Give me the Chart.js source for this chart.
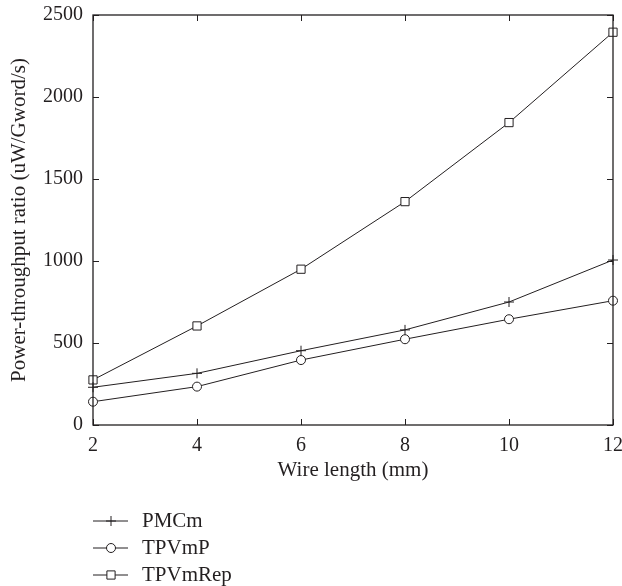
<!DOCTYPE html>
<html>
<head>
<meta charset="utf-8">
<script src="https://cdn.jsdelivr.net/npm/chart.js@4"></script>
<style>
  html, body { margin: 0; padding: 0; background: #fff; }
  #wrap { width: 622px; height: 586px; position: relative; }
</style>
</head>
<body>
<div id="wrap"><canvas id="grafico"></canvas></div>
<script>
// dados
const wireLength = [2, 4, 6, 8, 10, 12];
const pmcm = [230, 315, 453, 580, 750, 1006];
const tpvmp = [142, 234, 396, 523, 645, 758];
const tpvmrep = [275, 604, 950, 1362, 1844, 2395];
const xTicks = [2, 4, 6, 8, 10, 12];
const yTicks = [0, 500, 1000, 1500, 2000, 2500];

const corTexto = '#231f20';
const corLinha = '#231f20';
const fonte = 'Liberation Serif';

Chart.defaults.font.family = fonte;
Chart.defaults.color = corTexto;

function serie(label, valores, estilo, raio) {
    return {
        label: label,
        data: wireLength.map((x, i) => ({ x: x, y: valores[i] })),
        borderColor: corLinha,
        backgroundColor: '#fff',
        borderWidth: 1,
        pointStyle: estilo,
        pointRadius: raio,
        pointBorderWidth: 1,
        pointBorderColor: corLinha,
        pointBackgroundColor: '#fff',
        tension: 0,
        clip: false
    };
}

// zera o espaço extra que o chart.js reserva pros rótulos das pontas
function semPadding(s) {
    s.paddingLeft = 0;
    s.paddingRight = 0;
    s.paddingTop = 0;
    s.paddingBottom = 0;
}

// ticks para dentro nos quatro lados + moldura
const molduraTicks = {
    id: 'molduraTicks',
    afterDatasetsDraw(chart) {
        const { ctx, chartArea: a, scales: { x, y } } = chart;
        const tam = 6;
        ctx.save();
        ctx.strokeStyle = corLinha;
        ctx.lineWidth = 1;
        ctx.beginPath();
        xTicks.forEach(v => {
            const px = Math.round(x.getPixelForValue(v)) + 0.5;
            ctx.moveTo(px, a.bottom); ctx.lineTo(px, a.bottom - tam);
            ctx.moveTo(px, a.top); ctx.lineTo(px, a.top + tam);
        });
        yTicks.forEach(v => {
            const py = Math.round(y.getPixelForValue(v)) + 0.5;
            ctx.moveTo(a.left, py); ctx.lineTo(a.left + tam, py);
            ctx.moveTo(a.right, py); ctx.lineTo(a.right - tam, py);
        });
        ctx.stroke();
        ctx.lineWidth = 1.3;
        ctx.strokeRect(a.left, a.top, a.right - a.left, a.bottom - a.top);
        ctx.restore();
    }
};

// legenda vertical abaixo do eixo x
const legendaVertical = {
    id: 'legendaVertical',
    afterDraw(chart) {
        const ctx = chart.ctx;
        const linhas = [521, 548, 575];
        ctx.save();
        chart.data.datasets.forEach((ds, i) => {
            const yy = linhas[i];
            ctx.strokeStyle = corLinha;
            ctx.lineWidth = 1;
            ctx.beginPath();
            ctx.moveTo(93, yy);
            ctx.lineTo(128, yy);
            ctx.stroke();
            ctx.fillStyle = '#fff';
            Chart.helpers.drawPoint(ctx, {
                pointStyle: ds.pointStyle,
                radius: ds.pointRadius,
                borderWidth: 1
            }, 111, yy);
            ctx.fillStyle = corTexto;
            ctx.font = '21px ' + fonte;
            ctx.textBaseline = 'middle';
            ctx.textAlign = 'left';
            ctx.fillText(ds.label, 142, yy);
        });
        ctx.restore();
    }
};

const ctxGrafico = document.getElementById('grafico');
new Chart(ctxGrafico, {
    type: 'line',
    data: {
        datasets: [
            serie('PMCm', pmcm, 'cross', 5),
            serie('TPVmP', tpvmp, 'circle', 4.5),
            serie('TPVmRep', tpvmrep, 'rect', 5.8)
        ]
    },
    options: {
        responsive: true,
        maintainAspectRatio: false,
        animation: false,
        layout: {
            padding: { top: 15, right: 9, bottom: 99, left: 0 }
        },
        scales: {
            x: {
                type: 'linear',
                min: 2,
                max: 12,
                afterBuildTicks: s => { s.ticks = xTicks.map(v => ({ value: v })); },
                afterFit: s => { s.height = 62; semPadding(s); },
                grid: { display: false, drawTicks: false },
                border: { display: false },
                ticks: { padding: 9, font: { size: 20 }, color: corTexto, maxRotation: 0 },
                title: {
                    display: true,
                    text: 'Wire length (mm)',
                    font: { size: 21 },
                    color: corTexto,
                    padding: { top: 0, bottom: 4 }
                }
            },
            y: {
                min: 0,
                max: 2500,
                afterBuildTicks: s => { s.ticks = yTicks.map(v => ({ value: v })); },
                afterFit: s => { s.width = 93; semPadding(s); },
                grid: { display: false, drawTicks: false },
                border: { display: false },
                ticks: {
                    padding: 10,
                    font: { size: 20 },
                    color: corTexto,
                    callback: v => String(v)
                },
                title: {
                    display: true,
                    text: 'Power-throughput ratio (uW/Gword/s)',
                    font: { size: 21 },
                    color: corTexto,
                    padding: { top: 7, bottom: 0 }
                }
            }
        },
        plugins: {
            legend: { display: false },
            tooltip: { enabled: false }
        }
    },
    plugins: [molduraTicks, legendaVertical]
});
</script>
</body>
</html>
